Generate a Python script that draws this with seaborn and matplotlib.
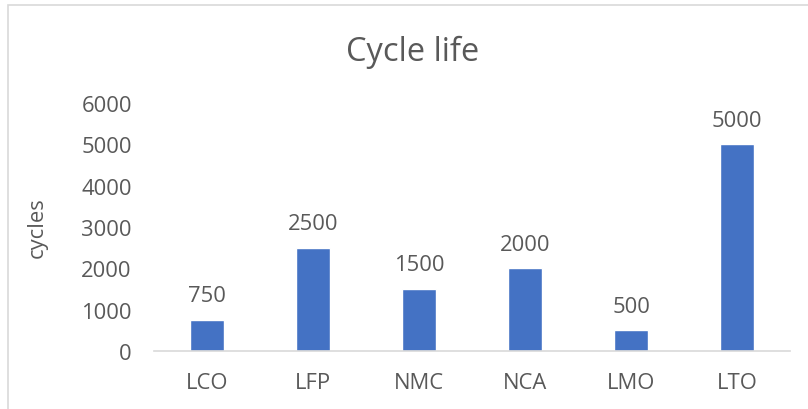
import matplotlib
matplotlib.use("Agg")
import matplotlib.pyplot as plt
import seaborn as sns
import pandas as pd
from matplotlib.patches import Rectangle

# chart data
chemistries = ["LCO", "LFP", "NMC", "NCA", "LMO", "LTO"]
cycles = [750, 2500, 1500, 2000, 500, 5000]
y_ticks = [0, 1000, 2000, 3000, 4000, 5000, 6000]

df = pd.DataFrame({"chemistry": chemistries, "cycles": cycles})

sns.set_style("white")
plt.rcParams["font.family"] = ["Open Sans", "DejaVu Sans"]
text_color = "#595959"
fs = 15.8

fig = plt.figure(figsize=(8.08, 4.10), dpi=100)
ax = fig.add_axes([154 / 808, 58 / 410, 636 / 808, 248 / 410])

sns.barplot(data=df, x="chemistry", y="cycles", color="#4472C4",
            width=0.32, saturation=1, ax=ax)

ax.set_xlim(-0.5, len(chemistries) - 0.5)
ax.set_ylim(0, 6000)
ax.set_yticks(y_ticks)
ax.set_yticklabels([str(t) for t in y_ticks])

for s in ["top", "right", "left"]:
    ax.spines[s].set_visible(False)
ax.spines["bottom"].set_color("#D9D9D9")
ax.spines["bottom"].set_linewidth(1.2)

ax.tick_params(axis="both", length=0, labelsize=fs, colors=text_color)
ax.tick_params(axis="x", pad=15)
ax.tick_params(axis="y", pad=16)

ax.set_xlabel("")
ax.set_ylabel("cycles", fontsize=fs, color=text_color, labelpad=24)

# data labels
for i, v in enumerate(cycles):
    ax.annotate(str(v), (i, v), xytext=(0, 17.5), textcoords="offset points",
                ha="center", va="center", fontsize=fs, color=text_color)

fig.text(413 / 808, 1 - 52 / 410, "Cycle life", ha="center", va="center",
         fontsize=23.5, color=text_color)

# chart area border
fig.patches.append(Rectangle((8 / 808, -0.1), 1.2, 1.1 - 6 / 410,
                             transform=fig.transFigure, fill=False,
                             edgecolor="#D9D9D9", linewidth=1.2))

fig.savefig("out.png", dpi=100)
